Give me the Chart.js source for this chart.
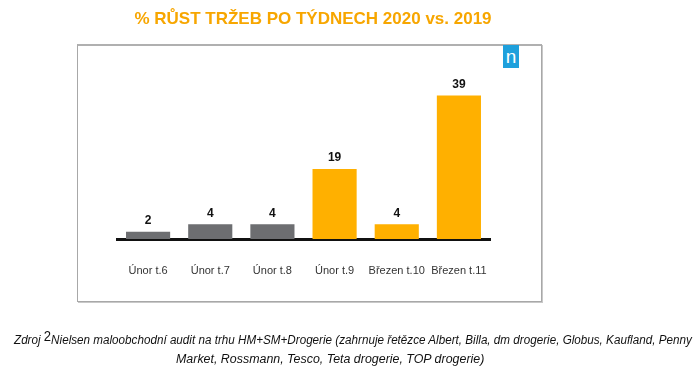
<!DOCTYPE html>
<html>
<head>
<meta charset="utf-8">
<script src="https://cdn.jsdelivr.net/npm/chart.js@4.4.1/dist/chart.umd.min.js"></script>
<style>
  html, body { margin: 0; padding: 0; background: #fff; }
  #wrap { position: relative; width: 700px; height: 374px; overflow: hidden; font-family: "Liberation Sans", Arial, sans-serif; }
  #frame { position: absolute; left: 77px; top: 44px; width: 463px; height: 255px; border: 1px solid #a8a8a8; border-top: 2px solid #b0b0b0; box-shadow: 1px 1px 0 #c8c8c8; }
  #logo { position: absolute; left: 503px; top: 45px; width: 16px; height: 23px; background: #1ea0dc; color: #fff; font: 19px/24px "Liberation Sans", Arial, sans-serif; text-align: center; }
  canvas { position: absolute; left: 0; top: 0; }
  .foot { position: absolute; font-family: "Liberation Sans Narrow", "Liberation Sans", Arial, sans-serif; font-style: italic; font-size: 12.5px; color: #111; white-space: nowrap; transform-origin: 0 50%; }
  .foot sup { font-size: 14px; vertical-align: 3px; font-style: normal; line-height: 0; }
</style>
</head>
<body>
<div id="wrap">
  <div id="frame"></div>
  <div id="logo">n</div>
  <canvas id="c" width="700" height="374"></canvas>
  <div class="foot" id="f1" style="left:14px; top:333px;">Zdroj <sup>2</sup>Nielsen maloobchodní audit na trhu HM+SM+Drogerie (zahrnuje řetězce Albert, Billa, dm drogerie, Globus, Kaufland, Penny</div>
  <div class="foot" id="f2" style="left:176px; top:352px;">Market, Rossmann, Tesco, Teta drogerie, TOP drogerie)</div>
</div>
<script>
const categories = ["Únor t.6", "Únor t.7", "Únor t.8", "Únor t.9", "Březen t.10", "Březen t.11"];
const values = [2, 4, 4, 19, 4, 39];
const barColors = ["#6d6e71", "#6d6e71", "#6d6e71", "#ffb000", "#ffb000", "#ffb000"];
const titleText = "% RŮST TRŽEB PO TÝDNECH 2020 vs. 2019";

// fit footer lines to measured widths
function fitLine(id, target) {
  const el = document.getElementById(id);
  const w = el.offsetWidth;
  if (w > 0) el.style.transform = "scaleX(" + (target / w) + ")";
}
fitLine("f1", 678);
fitLine("f2", 308);

const valueLabels = {
  id: "valueLabels",
  afterDatasetsDraw(chart) {
    const ctx = chart.ctx;
    const meta = chart.getDatasetMeta(0);
    ctx.save();
    ctx.font = "bold 12px 'Liberation Sans', Arial, sans-serif";
    ctx.fillStyle = "#111";
    ctx.textAlign = "center";
    ctx.textBaseline = "middle";
    meta.data.forEach((bar, i) => {
      ctx.fillText(String(values[i]), bar.x, bar.y - 11);
    });
    ctx.restore();
  }
};

new Chart(document.getElementById("c"), {
  type: "bar",
  data: {
    labels: categories,
    datasets: [{
      data: values,
      backgroundColor: barColors,
      borderWidth: 0,
      categoryPercentage: 1,
      barPercentage: 0.71
    }]
  },
  options: {
    responsive: false,
    animation: false,
    devicePixelRatio: 1,
    layout: { padding: { left: 117, right: 191, top: 9, bottom: 0 } },
    plugins: {
      legend: { display: false },
      tooltip: { enabled: false },
      title: {
        display: true,
        text: titleText,
        color: "#f7a600",
        font: { family: "'Liberation Sans', Arial, sans-serif", size: 17, weight: "bold" },
        padding: { top: 0, bottom: 33 }
      }
    },
    scales: {
      x: {
        grid: { display: false, drawTicks: false },
        border: { display: true, color: "#111", width: 3 },
        ticks: {
          color: "#333",
          font: { family: "'Liberation Sans', Arial, sans-serif", size: 11 },
          padding: 25,
          maxRotation: 0,
          autoSkip: false
        },
        afterFit(scale) { scale.height = 135; }
      },
      y: {
        position: "right",
        min: 0,
        max: 48,
        grid: { display: false, drawTicks: false },
        border: { display: false },
        ticks: { display: false },
        afterFit(scale) { scale.width = 19; }
      }
    }
  },
  plugins: [valueLabels]
});
</script>
</body>
</html>
